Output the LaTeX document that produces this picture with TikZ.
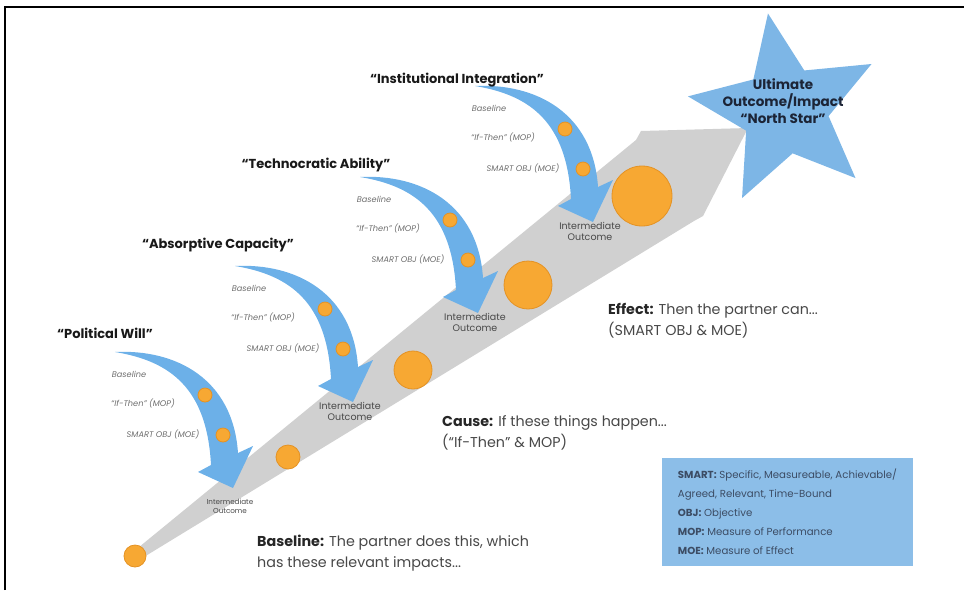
\documentclass[tikz,border=0pt]{standalone}
\usepackage{fontspec}
\setmainfont{Poppins}
\usetikzlibrary{positioning}

\definecolor{shaftgray}{RGB}{208,208,208}
\definecolor{arrowblue}{RGB}{108,176,232}
\definecolor{starblue}{RGB}{125,182,230}
\definecolor{keyblue}{RGB}{140,190,232}
\definecolor{dotorange}{RGB}{247,168,51}
\definecolor{dotedge}{RGB}{228,146,36}
\definecolor{notegray}{RGB}{110,110,110}
\definecolor{bodygray}{RGB}{72,72,72}
\definecolor{keytext}{RGB}{60,76,100}
\definecolor{navytext}{RGB}{28,36,54}

\tikzstyle{dot} = [circle, fill=dotorange, draw=dotedge, line width=0.8pt, inner sep=0pt]
\tikzstyle{note} = [font=\fontsize{8.2}{9}\selectfont\itshape, text=notegray, inner sep=0pt]
\tikzstyle{outcome} = [font=\fontsize{9.5}{11}\selectfont, text=bodygray, align=center, inner sep=0pt]
\tikzstyle{title} = [font=\fontsize{13}{14}\selectfont\bfseries, text=black!90, inner sep=0pt]
\tikzstyle{caption} = [font=\fontsize{14.3}{21}\selectfont, text=bodygray, anchor=west, align=left, inner sep=0pt]

% curved blue arrow, tip at (#1,#2), names end in #3
\newcommand{\stagearrow}[3]{
    \begin{scope}[shift={(#1,#2)}]
        \fill[arrowblue] (-115,-136) .. controls (-55,-139) and (3,-110) .. (8,-35)
            -- (23,-42) -- (3,0) -- (-32,-16) -- (-19,-23)
            .. controls (-23,-100) and (-60,-127) .. (-115,-136) -- cycle;
        \coordinate (tip#3) at (0,0);
        \node (ifdot#3) at (-25,-93) [dot, minimum size=14pt] {};
        \node (objdot#3) at (-7,-53) [dot, minimum size=14pt] {};
        \node (base#3) at (-101,-114) [note] {Baseline};
        \node (mop#3) at (-87,-85) [note] {“If-Then” (MOP)};
        \node (moe#3) at (-67,-54) [note] {SMART OBJ (MOE)};
    \end{scope}
}

\begin{document}
\begin{tikzpicture}[x=1pt, y=-1pt]
    \tikzset{node distance=9pt}
    \useasboundingbox (0,0) rectangle (964,590);
    % frame
    \draw[line width=1.3pt] (5,590) -- (5,7) -- (964,7);
    % grey shaft arrow
    \fill[shaftgray] (133,552) -- (636,140) -- (641,131) -- (748,128) -- (703,216) -- (694,221) -- (139,560) -- cycle;
    \node (d0) at (135,556) [dot, minimum size=22pt] {};
    \node (d1) at (288,457) [dot, minimum size=24pt] {};
    \node (d2) at (413,370) [dot, minimum size=38pt] {};
    \node (d3) at (528,285) [dot, minimum size=48pt] {};
    \node (d4) at (642,196) [dot, minimum size=60pt] {};
    % the four stages
    \stagearrow{230}{488}{1}
    \stagearrow{350}{402}{2}
    \stagearrow{475}{313}{3}
    \stagearrow{590}{222}{4}
    \node (io1) [outcome, font=\fontsize{7.2}{8.5}\selectfont, below=11pt of tip1] {Intermediate\\Outcome};
    \node (io2) [outcome, below of=tip2] {Intermediate\\Outcome};
    \node (io3) [outcome, below of=tip3] {Intermediate\\Outcome};
    \node (io4) [outcome, below of=tip4] {Intermediate\\Outcome};
    \node (will) at (105,333) [title] {“Political Will”};
    \node (capacity) at (218,245) [title] {“Absorptive Capacity”};
    \node (ability) at (316,165) [title] {“Technocratic Ability”};
    \node (integration) at (457,80) [title] {“Institutional Integration”};
    % north star
    \fill[starblue] plot[samples at={0,...,9}] ({785+ifthenelse(mod(\x,2)==0,98,44)*cos(260+36*\x)}, {110+ifthenelse(mod(\x,2)==0,98,44)*sin(260+36*\x)}) -- cycle;
    \node (north) at (783,101) [font=\fontsize{13.5}{17}\selectfont\bfseries, text=navytext, align=center] {Ultimate\\Outcome/Impact\\“North Star”};
    % captions
    \node (effect) at (608,321) [caption] {\textbf{\color{black!85}Effect:} Then the partner can...\\(SMART OBJ \& MOE)};
    \node (cause) at (442,433) [caption] {\textbf{\color{black!85}Cause:} If these things happen...\\(“If-Then” \& MOP)};
    \node (baseline) at (257,553) [caption] {\textbf{\color{black!85}Baseline:} The partner does this, which\\has these relevant impacts...};
    % key
    \node (key) at (787.5,512) [rectangle, fill=keyblue, minimum width=251pt, minimum height=108pt, align=left, font=\fontsize{10.2}{19}\selectfont, text=keytext] {\textbf{SMART:} Specific, Measureable, Achievable/\\Agreed, Relevant, Time-Bound\\\textbf{OBJ:} Objective\\\textbf{MOP:} Measure of Performance\\\textbf{MOE:} Measure of Effect};
\end{tikzpicture}
\end{document}
